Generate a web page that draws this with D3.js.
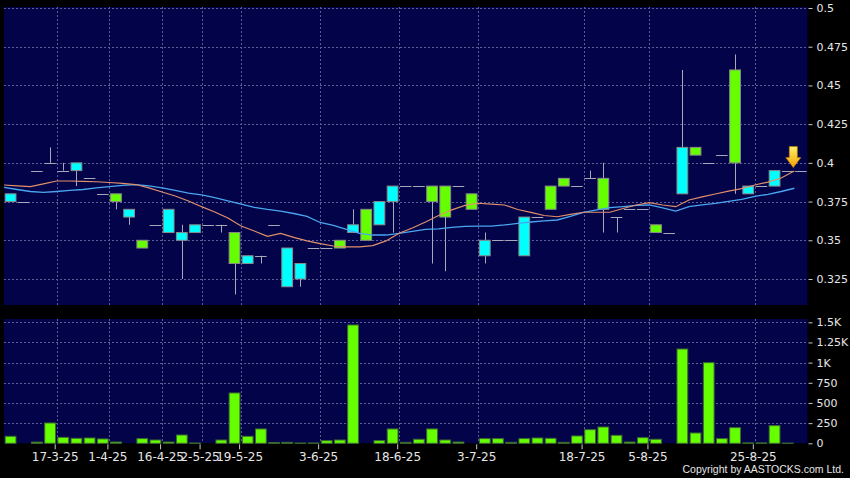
<!DOCTYPE html>
<html><head><meta charset="utf-8">
<script src="https://cdn.jsdelivr.net/npm/d3@7"></script>
<style>html,body{margin:0;padding:0;background:#000;}svg{display:block;}</style>
</head><body><svg id="c" width="850" height="478"></svg>
<script>
// ---- data (one entry per trading slot) ----
const opens  = [0.38,0.375,0.395,0.40,0.395,0.40,0.39,0.38,0.375,0.37,0.345,0.36,0.37,0.355,0.36,0.36,0.36,0.335,0.34,0.34,0.36,0.345,0.335,0.345,0.345,0.345,0.36,0.35,0.375,0.385,0.385,0.385,0.375,0.365,0.385,0.37,0.35,0.35,0.35,0.365,0.365,0.37,0.385,0.385,0.39,0.37,0.365,0.37,0.37,0.355,0.355,0.41,0.405,0.40,0.405,0.40,0.385,0.385,0.395,0.395,0.395];
const highs  = [0.38,0.375,0.395,0.41,0.40,0.40,0.39,0.38,0.38,0.37,0.35,0.36,0.37,0.36,0.36,0.36,0.36,0.355,0.34,0.34,0.36,0.345,0.335,0.345,0.345,0.35,0.37,0.37,0.375,0.385,0.385,0.385,0.385,0.385,0.385,0.38,0.355,0.35,0.35,0.365,0.365,0.385,0.39,0.385,0.395,0.40,0.365,0.37,0.37,0.36,0.355,0.46,0.41,0.40,0.405,0.47,0.385,0.385,0.395,0.395,0.395];
const lows   = [0.375,0.375,0.395,0.40,0.395,0.385,0.39,0.38,0.37,0.36,0.345,0.36,0.355,0.325,0.355,0.36,0.355,0.315,0.335,0.335,0.36,0.32,0.32,0.345,0.345,0.345,0.355,0.35,0.36,0.355,0.385,0.385,0.335,0.33,0.385,0.37,0.335,0.35,0.35,0.34,0.365,0.37,0.385,0.385,0.39,0.355,0.355,0.37,0.37,0.355,0.355,0.38,0.405,0.40,0.405,0.38,0.38,0.385,0.385,0.395,0.395];
const closes = [0.375,0.375,0.395,0.40,0.395,0.395,0.39,0.38,0.38,0.365,0.35,0.36,0.355,0.35,0.355,0.36,0.36,0.355,0.335,0.34,0.36,0.32,0.325,0.345,0.345,0.35,0.355,0.37,0.36,0.375,0.385,0.385,0.385,0.385,0.385,0.38,0.34,0.35,0.35,0.34,0.365,0.385,0.39,0.385,0.39,0.39,0.365,0.37,0.37,0.36,0.355,0.38,0.41,0.40,0.405,0.46,0.38,0.385,0.385,0.395,0.395];
const volumes = [87,0,15,252,74,62,66,54,16,0,58,41,16,103,4,0,41,624,87,178,8,12,4,4,33,41,1467,0,33,178,12,50,178,41,16,0,58,58,12,58,66,62,12,91,169,202,99,16,70,50,0,1169,128,1000,58,194,5,5,219,3,0];
const maShort = [0.3857,0.3851,0.3846,0.3864,0.3883,0.3883,0.3880,0.3878,0.3873,0.3867,0.3860,0.3838,0.3812,0.3786,0.3754,0.3717,0.3683,0.3644,0.3592,0.3560,0.3525,0.3545,0.3519,0.3496,0.3479,0.3463,0.3457,0.3457,0.3466,0.3496,0.3545,0.3579,0.3618,0.3660,0.3696,0.3725,0.3739,0.3734,0.3728,0.3699,0.3680,0.3660,0.3652,0.3667,0.3681,0.3681,0.3681,0.3705,0.3728,0.3743,0.3728,0.3717,0.3760,0.3780,0.3799,0.3818,0.3834,0.3857,0.3876,0.3902,0.3948];
const maLong  = [0.3842,0.3828,0.3815,0.3809,0.3815,0.3822,0.3828,0.3838,0.3847,0.3854,0.3860,0.3851,0.3838,0.3822,0.3805,0.3793,0.3776,0.3754,0.3734,0.3712,0.3699,0.3689,0.3673,0.3654,0.3615,0.3596,0.3570,0.3544,0.3534,0.3534,0.3545,0.3557,0.3571,0.3574,0.3583,0.3590,0.3592,0.3592,0.3599,0.3609,0.3618,0.3625,0.3631,0.3654,0.3680,0.3696,0.3711,0.3718,0.3725,0.3728,0.3709,0.3689,0.3717,0.3728,0.3738,0.3751,0.3764,0.3783,0.3797,0.3815,0.3836];
const dateTickSlots  = [4,8,12,15,18,24,30,36,44,49,57];
const dateTickLabels = ["17-3-25","1-4-25","16-4-25","2-5-25","19-5-25","3-6-25","18-6-25","3-7-25","18-7-25","5-8-25","25-8-25"];
const priceTicks = [0.325,0.35,0.375,0.4,0.425,0.45,0.475,0.5];
const priceTickLabels = ["0.325","0.35","0.375","0.4","0.425","0.45","0.475","0.5"];
const volTicks = [0,250,500,750,1000,1250,1500];
const volTickLabels = ["0","250","500","750","1K","1.25K","1.5K"];
const copyright = "Copyright by AASTOCKS.com Ltd.";

// ---- layout ----
const N = closes.length;
const L = 4, R = 807.5;
const pTop = 7, pBot = 305, vTop = 319, vBot = 443.3;
const NAVY = "#03034a", GRID = "#5c5c96", GREEN = "#66ff00", CYAN = "#00ffff";
const FONT = "'DejaVu Sans', sans-serif";

const svg = d3.select("#c");
svg.append("rect").attr("width",850).attr("height",478).attr("fill","#000");

const x = d3.scaleLinear().domain([0, N]).range([L, R]);
const bw = x(1) - x(0);
const yP = d3.scaleLinear().domain([0.325, 0.5]).range([279, 8]);
const yV = d3.scaleLinear().domain([0, 1500]).range([vBot, 322.3]);

// panels
svg.append("rect").attr("x",L).attr("y",pTop).attr("width",R-L).attr("height",pBot-pTop).attr("fill",NAVY);
svg.append("rect").attr("x",L).attr("y",vTop).attr("width",R-L).attr("height",vBot-vTop).attr("fill",NAVY);

svg.append("clipPath").attr("id","pc").append("rect").attr("x",L).attr("y",pTop).attr("width",R-L).attr("height",pBot-pTop);

const grid = svg.append("g").attr("stroke",GRID).attr("stroke-width",1).attr("stroke-dasharray","2,2").attr("shape-rendering","crispEdges");
priceTicks.forEach(t => grid.append("line").attr("x1",L).attr("x2",R).attr("y1",Math.round(yP(t))+0.5).attr("y2",Math.round(yP(t))+0.5));
volTicks.slice(1).forEach(t => grid.append("line").attr("x1",L).attr("x2",R).attr("y1",Math.round(yV(t))+0.5).attr("y2",Math.round(yV(t))+0.5));
dateTickSlots.forEach(s => {
  const gx = Math.round(x(s))+0.5;
  grid.append("line").attr("x1",gx).attr("x2",gx).attr("y1",pTop).attr("y2",pBot);
  grid.append("line").attr("x1",gx).attr("x2",gx).attr("y1",vTop).attr("y2",vBot);
});

// candles
const cg = svg.append("g").attr("clip-path","url(#pc)");
const idx = d3.range(N);
cg.selectAll("line.wick").data(idx.filter(i => highs[i] !== lows[i])).join("line")
  .attr("x1", i => Math.round(x(i)+bw/2)+0.5).attr("x2", i => Math.round(x(i)+bw/2)+0.5)
  .attr("y1", i => yP(highs[i])).attr("y2", i => yP(lows[i]))
  .attr("stroke","#a8a8b8").attr("stroke-width",1);
cg.selectAll("line.doji").data(idx.filter(i => opens[i] === closes[i])).join("line")
  .attr("x1", i => x(i)+0.8).attr("x2", i => x(i+1)-0.8)
  .attr("y1", i => Math.round(yP(closes[i]))+0.5).attr("y2", i => Math.round(yP(closes[i]))+0.5)
  .attr("stroke","#a8a8b8").attr("stroke-width",1);
cg.selectAll("rect.body").data(idx.filter(i => opens[i] !== closes[i])).join("rect")
  .attr("x", i => x(i)+1.2).attr("width", bw-2.4)
  .attr("y", i => yP(Math.max(opens[i],closes[i])))
  .attr("height", i => Math.abs(yP(opens[i]) - yP(closes[i])))
  .attr("fill", i => closes[i] > opens[i] ? GREEN : CYAN)
  .attr("stroke","#8a8a8a").attr("stroke-width",1);

// moving averages
const line = d3.line().x((d,i) => x(i)).y(d => yP(d));
cg.append("path").datum(maLong).attr("d",line).attr("fill","none").attr("stroke","#4aa6ee").attr("stroke-width",1.3);
cg.append("path").datum(maShort).attr("d",line).attr("fill","none").attr("stroke","#e0906a").attr("stroke-width",1.2);

// volume bars
svg.append("g").selectAll("rect").data(idx).join("rect")
  .attr("x", i => x(i)+1.2).attr("width", bw-2.4)
  .attr("y", i => yV(volumes[i])).attr("height", i => vBot - yV(volumes[i]))
  .attr("fill", GREEN).attr("stroke","#3c6a30").attr("stroke-width",1);

// latest-price arrow
const ax = x(N-1) - 1, ay = yP(closes[N-1]) - 3;
const grad = svg.append("defs").append("linearGradient").attr("id","ag").attr("x1",0).attr("x2",0).attr("y1",0).attr("y2",1);
grad.append("stop").attr("offset","0%").attr("stop-color","#fff06a");
grad.append("stop").attr("offset","100%").attr("stop-color","#f5a000");
svg.append("path")
  .attr("d", `M${ax-4},${ay-21} L${ax+4},${ay-21} L${ax+4},${ay-10} L${ax+7.5},${ay-10} L${ax},${ay} L${ax-7.5},${ay-10} L${ax-4},${ay-10} Z`)
  .attr("fill","url(#ag)").attr("stroke","#c88000").attr("stroke-width",0.6);

// axes
function styleAxis(g){
  g.select(".domain").remove();
  g.selectAll(".tick line").attr("stroke","#c8c8c8");
  g.selectAll(".tick text").attr("fill","#e6e6e6").attr("font-family",FONT).attr("font-size","11px");
}
svg.append("g").attr("transform",`translate(${R+1},0)`)
  .call(d3.axisRight(yP).tickValues(priceTicks).tickFormat((d,i)=>priceTickLabels[i]).tickSize(4).tickPadding(4))
  .call(styleAxis);
svg.append("g").attr("transform",`translate(${R+1},0)`)
  .call(d3.axisRight(yV).tickValues(volTicks).tickFormat((d,i)=>volTickLabels[i]).tickSize(4).tickPadding(4))
  .call(styleAxis);
svg.append("g").attr("transform",`translate(-2,${vBot+1})`)
  .call(d3.axisBottom(x).tickValues(dateTickSlots).tickFormat((d,i)=>dateTickLabels[i]).tickSize(5).tickPadding(3.5))
  .call(styleAxis)
  .call(g => g.selectAll(".tick text").attr("font-size","12px"));

svg.append("text").attr("x",844).attr("y",473).attr("text-anchor","end")
  .attr("fill","#e6e6e6").attr("font-family","'Liberation Sans', Arial, sans-serif").attr("font-size","10.5px")
  .text(copyright);
</script></body></html>
